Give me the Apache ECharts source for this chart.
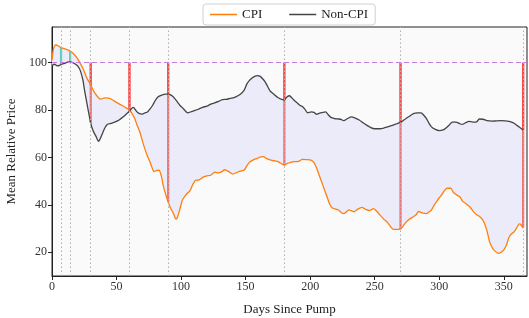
<!DOCTYPE html>
<html>
<head>
<meta charset="utf-8">
<script src="https://cdn.jsdelivr.net/npm/echarts@6/dist/echarts.min.js"></script>
<style>
  html, body { margin: 0; padding: 0; background: #fff; }
  #chart { width: 529px; height: 318px; }
</style>
</head>
<body>
<div id="chart"></div>
<script>
// CPI series (day, mean relative price)
const cpiDays = [0, 1, 2, 3, 5, 7, 10, 14, 17, 20, 22, 24, 27, 30, 33, 36, 38, 41, 44, 47, 50, 54, 57, 60,
  62, 64, 66, 68, 70, 72, 74, 76, 78, 79, 81, 83, 85, 86, 88, 90, 92, 94, 96, 97, 99, 101, 103, 105, 107,
  109, 111, 114, 117, 120, 123, 126, 128, 131, 134, 137, 140, 143, 146, 149, 151, 153, 156, 159, 162, 164,
  166, 169, 172, 175, 178, 180, 182, 185, 188, 191, 194, 197, 201, 203, 205, 207, 209, 211, 213, 215, 217,
  220, 222, 224, 226, 228, 230, 232, 234, 237, 240, 243, 246, 249, 251, 254, 257, 260, 262, 264, 267, 270,
  272, 274, 277, 280, 282, 284, 287, 290, 292, 294, 296, 298, 300, 302, 304, 306, 309, 311, 314, 316, 318,
  321, 324, 327, 329, 331, 333, 335, 337, 339, 341, 343, 346, 348, 350, 352, 354, 356, 358, 360, 362, 363, 365];
const cpiVals = [101, 105.5, 107, 107.4, 107, 106.3, 105.8, 104.9, 103.5, 101.5, 99.5, 97.5, 93.5, 90.5, 87.3, 85.2, 84.6, 85.1, 85, 84.2, 83.2, 82, 81, 80,
  78.5, 76.5, 73.5, 70.8, 67, 63.5, 60.5, 58, 55, 54, 54.5, 54.6, 51.5, 48.5, 44.5, 41.2, 38.5, 36.5, 34, 34.5, 38, 42, 43.7, 45, 46,
  48.5, 50.3, 50.5, 51.7, 52.2, 52.5, 53.8, 53.5, 53.8, 54.8, 54, 53, 53.6, 54.2, 54.7, 56.5, 58, 59, 59.6, 60.2, 60.3,
  59.6, 59, 58.6, 58.2, 57.3, 56.7, 57.4, 57.9, 58.2, 58.3, 59.2, 59.1, 58.8, 57.8, 55.5, 52.5, 49.5, 46.5, 43.5, 40.5, 38.8,
  38.2, 37.8, 36.8, 36.3, 37, 37.9, 37.5, 37.1, 38.2, 38.9, 38.1, 37.6, 38.4, 37.6, 35.8, 34, 32.5, 31, 29.8, 29.7, 29.8,
  31, 32.5, 34, 35, 35.8, 37.2, 36.6, 36.3, 37, 37.9, 39.8, 41.4, 43, 44.3, 46, 47, 47, 45.2, 44, 43.4, 41.6,
  40.4, 39, 36.8, 35.8, 35.2, 34.2, 32.4, 29, 24.5, 22, 20.6, 19.5, 20, 21, 23, 26.2, 27.8, 28.6, 30.3, 32, 31.8, 30.2];

// Non-CPI series
const nonDays = [0, 2, 4, 6, 7, 8, 10, 12, 14, 16, 18, 20, 22, 24, 25, 27, 28, 30, 32, 34, 36, 37, 39, 41, 43, 46,
  49, 52, 55, 58, 60, 62, 63, 65, 67, 70, 72, 74, 76, 78, 80, 82, 85, 88, 90, 91, 93, 95, 97, 99, 101, 103, 105,
  108, 111, 114, 117, 120, 123, 126, 129, 132, 135, 138, 141, 144, 147, 149, 151, 153, 155, 157, 159, 161, 163,
  165, 167, 169, 172, 175, 178, 180, 182, 184, 186, 188, 190, 192, 194, 196, 198, 201, 203, 205, 207, 209, 212,
  214, 216, 219, 222, 224, 226, 229, 232, 235, 238, 241, 244, 247, 250, 254, 257, 260, 263, 266, 268, 270, 271,
  274, 277, 280, 283, 286, 288, 290, 292, 294, 297, 300, 303, 305, 308, 310, 313, 316, 318, 321, 323, 326, 329,
  331, 334, 337, 341, 344, 348, 351, 354, 356, 358, 360, 362, 365];
const nonVals = [98.8, 99.3, 98.6, 98.8, 99.2, 99.5, 99.7, 100.2, 100.3, 100, 99.4, 98.5, 96.5, 92.5, 89, 83, 80, 74.5, 71, 69, 66.8, 67.5, 70, 72.5, 74, 74.4,
  75, 75.8, 77, 78.5, 79.5, 80.8, 81.1, 79.8, 78.7, 78.3, 78.8, 79.2, 80.5, 82, 84, 85.5, 86.3, 86.7, 86.7, 86.6, 86, 84.9, 83.5, 82, 81, 79.8, 78.8,
  79.3, 79.8, 80.5, 81.2, 81.6, 82.5, 83, 83.6, 84.4, 84.5, 84.9, 85.2, 86, 87.2, 88.5, 91, 92.5, 93.5, 94.2, 94.5, 94.3, 93.3,
  92, 90, 88, 86.6, 85.3, 84.5, 84.2, 85.5, 86, 85, 83.9, 83, 82, 81.5, 80.3, 78.8, 79.2, 79, 78.2, 78.6, 78.9, 79.2,
  78, 76.9, 76.4, 76.2, 76, 75.5, 76.4, 77.1, 76.6, 75.8, 74.6, 73.5, 72.6, 72.1, 72.1, 72.4, 72.9, 73.4, 74, 74.4, 74.9, 75.1,
  76.3, 77.4, 78.5, 78.8, 78.8, 77.8, 76.5, 74.5, 72.9, 71.8, 71.3, 71.6, 72.3, 73.8, 74.9, 74.9, 74.2, 73.9, 74.8, 75.2, 74.9, 75,
  76.2, 76.1, 75.5, 75.3, 75.4, 75.5, 75.4, 75.2, 74.9, 74.4, 73.6, 72.8, 71.6];

const checkpoints = [7, 14, 30, 60, 90, 180, 270, 365];
const xTicks = [0, 50, 100, 150, 200, 250, 300, 350];
const yTicks = [20, 40, 60, 80, 100];
const baseline = 100;

const cpiData = cpiDays.map((d, i) => [d, cpiVals[i]]);
const nonData = nonDays.map((d, i) => [d, nonVals[i]]);

const valueAt = (days, vals, d) => vals[days.indexOf(d)];
const checkData = checkpoints.map(d => [d, valueAt(cpiDays, cpiVals, d), valueAt(nonDays, nonVals, d)]);

const font = 'Liberation Serif';
const chart = echarts.init(document.getElementById('chart'));

const option = {
    animation: false,
    textStyle: { fontFamily: font },
    legend: {
        top: 4,
        left: 203,
        data: ['CPI', 'Non-CPI'],
        icon: 'rect',
        itemWidth: 27,
        itemHeight: 1.5,
        itemGap: 27,
        padding: [4, 7],
        borderColor: '#d0d0d0',
        borderWidth: 1,
        borderRadius: 3,
        backgroundColor: '#fff',
        textStyle: { fontFamily: font, fontSize: 13, color: '#222' }
    },
    grid: {
        left: 52,
        right: 2,
        top: 27,
        bottom: 42,
        outerBoundsMode: 'none',
        show: true,
        backgroundColor: '#fafafa',
        borderColor: '#222',
        borderWidth: 1
    },
    xAxis: {
        type: 'value',
        min: 0,
        max: 368,
        name: 'Days Since Pump',
        nameLocation: 'middle',
        nameGap: 27,
        nameTextStyle: { fontFamily: font, fontSize: 13, color: '#222' },
        splitLine: { show: false },
        axisLine: { lineStyle: { color: '#222' } },
        axisTick: { customValues: xTicks, length: 4, lineStyle: { color: '#222' } },
        axisLabel: { customValues: xTicks, fontFamily: font, fontSize: 12, color: '#333', margin: 5 }
    },
    yAxis: {
        type: 'value',
        min: 10,
        max: 115,
        name: 'Mean Relative Price',
        nameLocation: 'middle',
        nameGap: 30,
        nameRotate: 90,
        nameTextStyle: { fontFamily: font, fontSize: 13, color: '#222' },
        splitLine: { show: false },
        axisLine: { show: true, lineStyle: { color: '#222' } },
        axisTick: { show: true, customValues: yTicks, length: 4, lineStyle: { color: '#222' } },
        axisLabel: { customValues: yTicks, fontFamily: font, fontSize: 12, color: '#333', margin: 5 }
    },
    series: [
        {
            // shaded gap between the two curves
            type: 'custom',
            name: 'gap',
            z: 1,
            clip: true,
            silent: true,
            data: [[0, baseline]],
            renderItem: (params, api) => {
                const pts = cpiData.map(p => api.coord(p))
                    .concat(nonData.slice().reverse().map(p => api.coord(p)));
                return { type: 'polygon', shape: { points: pts }, style: { fill: '#ebebf9' } };
            },
            markLine: {
                silent: true,
                symbol: ['none', 'none'],
                label: { show: false },
                lineStyle: { color: '#b0b0b0', type: [1.5, 2.5], width: 1 },
                data: checkpoints.map(d => ({ xAxis: d }))
            }
        },
        {
            // distance from baseline at each checkpoint
            type: 'custom',
            name: 'checks',
            z: 3,
            silent: true,
            data: checkData,
            encode: { x: 0, y: 1 },
            renderItem: (params, api) => {
                const d = api.value(0);
                const base = api.coord([d, baseline]);
                const children = [api.value(1), api.value(2)].map(v => {
                    const end = api.coord([d, v]);
                    return {
                        type: 'line',
                        shape: { x1: base[0], y1: base[1], x2: end[0], y2: end[1] },
                        style: { stroke: v >= baseline ? '#22c4a2' : '#f23a3a', lineWidth: 2.2, opacity: 0.7 }
                    };
                });
                return { type: 'group', children };
            },
            markLine: {
                silent: true,
                symbol: ['none', 'none'],
                label: { show: false },
                lineStyle: { color: '#c27ee0', type: [5, 3], width: 1.2, opacity: 1 },
                data: [{ yAxis: baseline }]
            }
        },
        {
            name: 'CPI',
            type: 'line',
            z: 4,
            showSymbol: false,
            smooth: 0.2,
            data: cpiData,
            itemStyle: { color: '#ff7f0e' },
            lineStyle: { color: '#ff7f0e', width: 1.3 }
        },
        {
            name: 'Non-CPI',
            type: 'line',
            z: 4,
            showSymbol: false,
            smooth: 0.2,
            data: nonData,
            itemStyle: { color: '#444' },
            lineStyle: { color: '#444', width: 1.3 }
        }
    ]
};

chart.setOption(option);
</script>
</body>
</html>
